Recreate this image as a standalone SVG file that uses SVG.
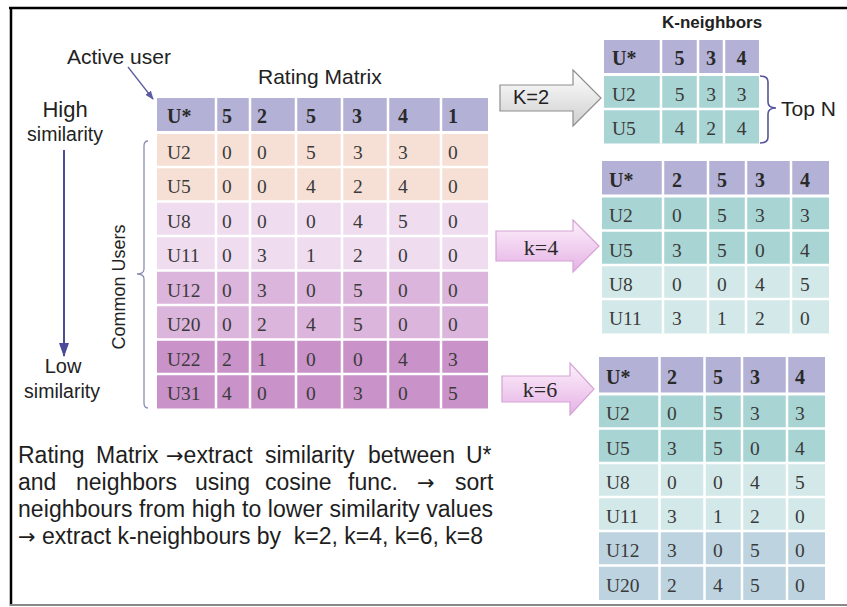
<svg xmlns="http://www.w3.org/2000/svg" width="847" height="607" viewBox="0 0 847 607">
<defs>
<style>
.lbl{font-family:"Liberation Sans",Arial,sans-serif;fill:#222}
.hdr{font-family:"Liberation Serif","Times New Roman",serif;font-weight:bold;font-size:20px;fill:#2a2a2a}
.cell{font-family:"Liberation Serif","Times New Roman",serif;font-size:19.5px;fill:#3a3a3a}
.ctr{text-anchor:middle}
.sep{stroke:#fff;stroke-width:2.5}
.para{font-family:"Liberation Sans",Arial,sans-serif;font-size:23px;fill:#1e1e1e}
.arr{font-family:"DejaVu Sans",sans-serif;font-size:21px}
.lav{fill:#b3b2d6}
.peach{fill:#f6e0d6}
.pk1{fill:#efdcef}
.pk2{fill:#dbb5db}
.pk3{fill:#c992c9}
.teal{fill:#a9d4d4}
.teal2{fill:#d3e9e9}
.blue{fill:#bdd3e0}
</style>
<linearGradient id="gGray" x1="0" y1="0" x2="0" y2="1"><stop offset="0" stop-color="#ffffff"/><stop offset="1" stop-color="#cfcfcf"/></linearGradient>
<linearGradient id="gPink" x1="0" y1="0" x2="0" y2="1"><stop offset="0" stop-color="#fdf0fb"/><stop offset="1" stop-color="#e5b2e5"/></linearGradient>
<marker id="ahBig" markerUnits="userSpaceOnUse" markerWidth="14" markerHeight="10" viewBox="0 0 14 10" refX="13" refY="5" orient="auto"><path d="M0,0 L14,5 L0,10 z" fill="#4b4b99"/></marker>
<marker id="ahSmall" markerUnits="userSpaceOnUse" markerWidth="9" markerHeight="7" viewBox="0 0 9 7" refX="8" refY="3.5" orient="auto"><path d="M0,0 L9,3.5 L0,7 z" fill="#5c5ca4"/></marker>
</defs>

<g id="frame">
<line x1="9" y1="8" x2="847" y2="8" stroke="#000" stroke-width="2.5"/>
<line x1="11" y1="7" x2="11" y2="606" stroke="#000" stroke-width="2.5"/>
<line x1="10" y1="605" x2="847" y2="605" stroke="#888" stroke-width="2"/>
</g>

<g id="labels">
<text class="lbl" x="67" y="64" font-size="21">Active user</text>
<text class="lbl" x="258" y="84" font-size="21">Rating Matrix</text>
<text class="lbl ctr" x="65" y="117" font-size="22">High</text>
<text class="lbl ctr" x="65" y="141" font-size="19.5">similarity</text>
<text class="lbl ctr" x="63" y="373" font-size="20">Low</text>
<text class="lbl ctr" x="62" y="398" font-size="19.5">similarity</text>
<text class="lbl ctr" transform="translate(125,287) rotate(-90)" font-size="18">Common Users</text>
<text class="lbl" x="662" y="28" font-size="17" font-weight="bold">K-neighbors</text>
<text class="lbl" x="781" y="116" font-size="21">Top N</text>
<path d="M148,141 Q144,141 144,146 L144,269 Q144,274 137,274 Q144,274 144,279 L144,403 Q144,408 148,408" fill="none" stroke="#8c8cb4" stroke-width="1.3"/>
<path d="M760,76 Q768,76 768,82 L768,102 Q768,108 776,108 Q768,108 768,114 L768,137 Q768,143 760,143" fill="none" stroke="#55559c" stroke-width="1.6"/>
</g>

<g id="rating-matrix">
<rect x="157" y="98" width="331" height="34.5" class="lav"/>
<rect x="157" y="132.5" width="331" height="69" class="peach"/>
<rect x="157" y="201.5" width="331" height="69" class="pk1"/>
<rect x="157" y="270.5" width="331" height="69" class="pk2"/>
<rect x="157" y="339.5" width="331" height="69" class="pk3"/>
<g class="sep">
<line x1="216" y1="98" x2="216" y2="408.5"/><line x1="250" y1="98" x2="250" y2="408.5"/><line x1="296" y1="98" x2="296" y2="408.5"/><line x1="342" y1="98" x2="342" y2="408.5"/><line x1="388" y1="98" x2="388" y2="408.5"/><line x1="441" y1="98" x2="441" y2="408.5"/>
<line x1="157" y1="132.5" x2="488" y2="132.5" stroke-width="3"/><line x1="157" y1="167" x2="488" y2="167"/><line x1="157" y1="201.5" x2="488" y2="201.5"/><line x1="157" y1="236" x2="488" y2="236"/><line x1="157" y1="270.5" x2="488" y2="270.5"/><line x1="157" y1="305" x2="488" y2="305"/><line x1="157" y1="339.5" x2="488" y2="339.5"/><line x1="157" y1="374" x2="488" y2="374"/>
</g>
<g class="hdr"><text x="167" y="123">U*</text><text x="222" y="123">5</text><text x="257" y="123">2</text><text x="306" y="123">5</text><text x="352" y="123">3</text><text x="398" y="123">4</text><text x="448" y="123">1</text></g>
<g class="cell">
<text x="167" y="158.7">U2</text><text x="222" y="158.7">0</text><text x="257" y="158.7">0</text><text x="306" y="158.7">5</text><text x="353" y="158.7">3</text><text x="398" y="158.7">3</text><text x="448" y="158.7">0</text>
<text x="167" y="193.2">U5</text><text x="222" y="193.2">0</text><text x="257" y="193.2">0</text><text x="306" y="193.2">4</text><text x="353" y="193.2">2</text><text x="398" y="193.2">4</text><text x="448" y="193.2">0</text>
<text x="167" y="227.7">U8</text><text x="222" y="227.7">0</text><text x="257" y="227.7">0</text><text x="306" y="227.7">0</text><text x="353" y="227.7">4</text><text x="398" y="227.7">5</text><text x="448" y="227.7">0</text>
<text x="167" y="262.2">U11</text><text x="222" y="262.2">0</text><text x="257" y="262.2">3</text><text x="306" y="262.2">1</text><text x="353" y="262.2">2</text><text x="398" y="262.2">0</text><text x="448" y="262.2">0</text>
<text x="167" y="296.7">U12</text><text x="222" y="296.7">0</text><text x="257" y="296.7">3</text><text x="306" y="296.7">0</text><text x="353" y="296.7">5</text><text x="398" y="296.7">0</text><text x="448" y="296.7">0</text>
<text x="167" y="331.2">U20</text><text x="222" y="331.2">0</text><text x="257" y="331.2">2</text><text x="306" y="331.2">4</text><text x="353" y="331.2">5</text><text x="398" y="331.2">0</text><text x="448" y="331.2">0</text>
<text x="167" y="365.7">U22</text><text x="222" y="365.7">2</text><text x="257" y="365.7">1</text><text x="306" y="365.7">0</text><text x="353" y="365.7">0</text><text x="398" y="365.7">4</text><text x="448" y="365.7">3</text>
<text x="167" y="400.2">U31</text><text x="222" y="400.2">4</text><text x="257" y="400.2">0</text><text x="306" y="400.2">0</text><text x="353" y="400.2">3</text><text x="398" y="400.2">0</text><text x="448" y="400.2">5</text>
</g>
</g>

<g id="table-k2">
<rect x="604" y="40" width="155" height="34.5" class="lav"/>
<rect x="604" y="74.5" width="155" height="69" class="teal"/>
<g class="sep">
<line x1="661" y1="40" x2="661" y2="143.5"/><line x1="698" y1="40" x2="698" y2="143.5"/><line x1="724" y1="40" x2="724" y2="143.5"/>
<line x1="604" y1="74.5" x2="759" y2="74.5" stroke-width="3"/><line x1="604" y1="109" x2="759" y2="109"/>
</g>
<g class="hdr"><text x="612" y="65">U*</text><text class="ctr" x="679.5" y="65">5</text><text class="ctr" x="711" y="65">3</text><text class="ctr" x="741.5" y="65">4</text></g>
<g class="cell">
<text x="612" y="100.7">U2</text><text class="ctr" x="679.5" y="100.7">5</text><text class="ctr" x="711" y="100.7">3</text><text class="ctr" x="741.5" y="100.7">3</text>
<text x="612" y="135.2">U5</text><text class="ctr" x="679.5" y="135.2">4</text><text class="ctr" x="711" y="135.2">2</text><text class="ctr" x="741.5" y="135.2">4</text>
</g>
</g>

<g id="table-k4">
<rect x="602" y="161" width="227" height="35" class="lav"/>
<rect x="602" y="196" width="227" height="69" class="teal"/>
<rect x="602" y="265" width="227" height="68.5" class="teal2"/>
<g class="sep">
<line x1="663" y1="161" x2="663" y2="333.5"/><line x1="708" y1="161" x2="708" y2="333.5"/><line x1="746" y1="161" x2="746" y2="333.5"/><line x1="791" y1="161" x2="791" y2="333.5"/>
<line x1="602" y1="196" x2="829" y2="196" stroke-width="3"/><line x1="602" y1="230.5" x2="829" y2="230.5"/><line x1="602" y1="265" x2="829" y2="265"/><line x1="602" y1="299" x2="829" y2="299"/>
</g>
<g class="hdr"><text x="609" y="186.5">U*</text><text x="672" y="186.5">2</text><text x="717" y="186.5">5</text><text x="755" y="186.5">3</text><text x="800" y="186.5">4</text></g>
<g class="cell">
<text x="609" y="222.2">U2</text><text x="672" y="222.2">0</text><text x="717" y="222.2">5</text><text x="755" y="222.2">3</text><text x="800" y="222.2">3</text>
<text x="609" y="256.7">U5</text><text x="672" y="256.7">3</text><text x="717" y="256.7">5</text><text x="755" y="256.7">0</text><text x="800" y="256.7">4</text>
<text x="609" y="291">U8</text><text x="672" y="291">0</text><text x="717" y="291">0</text><text x="755" y="291">4</text><text x="800" y="291">5</text>
<text x="609" y="325.2">U11</text><text x="672" y="325.2">3</text><text x="717" y="325.2">1</text><text x="755" y="325.2">2</text><text x="800" y="325.2">0</text>
</g>
</g>

<g id="table-k6">
<rect x="599" y="357" width="226" height="37" class="lav"/>
<rect x="599" y="394" width="226" height="69" class="teal"/>
<rect x="599" y="463" width="226" height="68" class="teal2"/>
<rect x="599" y="531" width="226" height="69" class="blue"/>
<g class="sep">
<line x1="659.5" y1="357" x2="659.5" y2="600"/><line x1="704.5" y1="357" x2="704.5" y2="600"/><line x1="742" y1="357" x2="742" y2="600"/><line x1="787" y1="357" x2="787" y2="600"/>
<line x1="599" y1="394" x2="825" y2="394" stroke-width="3"/><line x1="599" y1="428.5" x2="825" y2="428.5"/><line x1="599" y1="463" x2="825" y2="463"/><line x1="599" y1="497" x2="825" y2="497"/><line x1="599" y1="531" x2="825" y2="531"/><line x1="599" y1="565.5" x2="825" y2="565.5"/>
</g>
<g class="hdr"><text x="606" y="383.5">U*</text><text x="667" y="383.5">2</text><text x="713" y="383.5">5</text><text x="750" y="383.5">3</text><text x="795" y="383.5">4</text></g>
<g class="cell">
<text x="606" y="420.2">U2</text><text x="667" y="420.2">0</text><text x="713" y="420.2">5</text><text x="750" y="420.2">3</text><text x="795" y="420.2">3</text>
<text x="606" y="454.7">U5</text><text x="667" y="454.7">3</text><text x="713" y="454.7">5</text><text x="750" y="454.7">0</text><text x="795" y="454.7">4</text>
<text x="606" y="489">U8</text><text x="667" y="489">0</text><text x="713" y="489">0</text><text x="750" y="489">4</text><text x="795" y="489">5</text>
<text x="606" y="523">U11</text><text x="667" y="523">3</text><text x="713" y="523">1</text><text x="750" y="523">2</text><text x="795" y="523">0</text>
<text x="606" y="557.2">U12</text><text x="667" y="557.2">3</text><text x="713" y="557.2">0</text><text x="750" y="557.2">5</text><text x="795" y="557.2">0</text>
<text x="606" y="591.7">U20</text><text x="667" y="591.7">2</text><text x="713" y="591.7">4</text><text x="750" y="591.7">5</text><text x="795" y="591.7">0</text>
</g>
</g>

<g id="connectors">
<line x1="128" y1="67" x2="153" y2="99" stroke="#5c5ca4" stroke-width="1.3" marker-end="url(#ahSmall)"/>
<line x1="64" y1="150" x2="64" y2="356" stroke="#4b4b99" stroke-width="2" marker-end="url(#ahBig)"/>
<g id="arrow-k2">
<polygon points="500,85 573,85 573,70 601,98 573,126 573,111 500,111" fill="url(#gGray)" stroke="#8e8e8e" stroke-width="1.2"/>
<text class="lbl" x="513" y="104" font-size="20">K=2</text>
</g>
<g id="arrow-k4">
<polygon points="496,231 573,231 573,220 599,246 573,272 573,261 496,261" fill="url(#gPink)" stroke="#d5a3d5" stroke-width="1.2"/>
<text class="ctr" x="541" y="255" font-family="Liberation Serif, serif" font-size="22" fill="#2a2a2a">k=4</text>
</g>
<g id="arrow-k6">
<polygon points="502,376 570,376 570,363 594,389 570,415 570,402 502,402" fill="url(#gPink)" stroke="#d5a3d5" stroke-width="1.2"/>
<text class="ctr" x="540" y="397" font-family="Liberation Serif, serif" font-size="22" fill="#2a2a2a">k=6</text>
</g>
</g>

<g id="description">
<text class="para" y="463"><tspan x="18">Rating</tspan><tspan x="96">Matrix</tspan><tspan x="166" class="arr">→</tspan><tspan>extract</tspan><tspan x="265">similarity</tspan><tspan x="368">between</tspan><tspan x="466">U*</tspan></text>
<text class="para" y="490"><tspan x="18">and</tspan><tspan x="76">neighbors</tspan><tspan x="195">using</tspan><tspan x="265">cosine</tspan><tspan x="348">func.</tspan><tspan x="417" class="arr">→</tspan><tspan x="455">sort</tspan></text>
<text class="para" x="18" y="517" textLength="475" lengthAdjust="spacing">neighbours from high to lower similarity values</text>
<text class="para" x="18" y="544"><tspan class="arr">→</tspan> extract k-neighbours by&#160; k=2, k=4, k=6, k=8</text>
</g>
</svg>
